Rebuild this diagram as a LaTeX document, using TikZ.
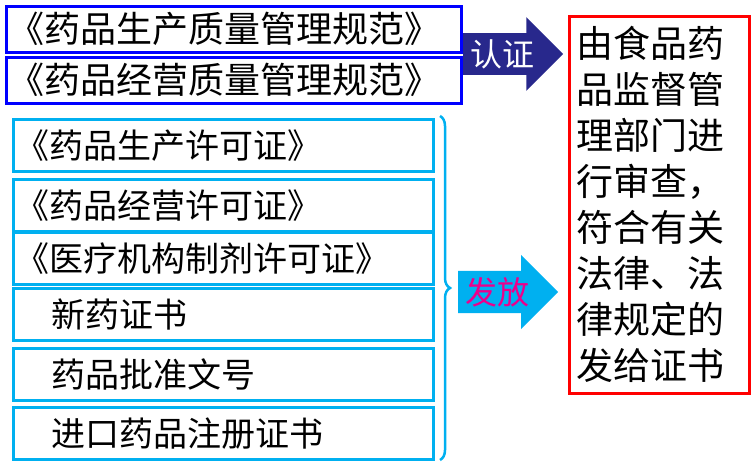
\documentclass[tikz,border=0pt]{standalone}
\usepackage{fontspec}
\newfontfamily\cjk{Noto Sans CJK SC}
\usetikzlibrary{shapes.arrows,decorations.pathreplacing}
\definecolor{navy}{RGB}{40,40,140}
\definecolor{skyb}{RGB}{0,176,240}
\tikzset{
  gmpbox/.style={draw=blue,line width=2.5pt,anchor=north west,minimum width=455pt,minimum height=46pt,inner sep=0pt,font=\cjk\fontsize{36}{38}\selectfont,align=left,text width=451pt},
  permbox/.style={draw=skyb,line width=2.5pt,anchor=north west,minimum width=420pt,minimum height=52pt,inner sep=0pt,font=\cjk\fontsize{34}{36}\selectfont,text width=416pt},
  bigarrow/.style={single arrow,minimum height=100pt,single arrow head extend=16pt,inner sep=6pt,anchor=west,font=\cjk\fontsize{32}{34}\selectfont}
}
\begin{document}
\begin{tikzpicture}[x=1pt,y=-1pt]
\useasboundingbox (0,0) rectangle (754,463);
% certification
\node [gmpbox] (gmp) at (5,5) {《药品生产质量管理规范》};
\node [gmpbox] (gsp) at (5,56) {《药品经营质量管理规范》};
% permits
\node [permbox] (p1) at (12,118) {《药品生产许可证》};
\node [permbox] (p2) at (12,178) {《药品经营许可证》};
\node [permbox] (p3) at (12,231) {《医疗机构制剂许可证》};
\node [permbox] (p4) at (12,287) {\hspace{36pt}新药证书};
\node [permbox] (p5) at (12,347) {\hspace{36pt}药品批准文号};
\node [permbox] (p6) at (12,406) {\hspace{36pt}进口药品注册证书};
\draw [skyb,line width=2.5pt,decorate,decoration={brace,amplitude=10pt,aspect=0.5}] (440,116) -- (440,460) coordinate (tip);
% authority
\node [draw=red,line width=2.5pt,anchor=north west,minimum width=180pt,minimum height=377pt,inner sep=0pt,text width=165pt,align=left,font=\cjk\fontsize{37}{46}\selectfont] (auth) at (568,15) {由食品药\\品监督管\\理部门进\\行审查，\\符合有关\\法律、法\\律规定的\\发给证书};
\node [bigarrow,fill=navy,text=white,minimum width=46pt] (cert) at (463,54) {认证};
\node [bigarrow,fill=skyb,text=magenta,minimum width=50pt] (issue) at (458,292) {发放};
\end{tikzpicture}
\end{document}
